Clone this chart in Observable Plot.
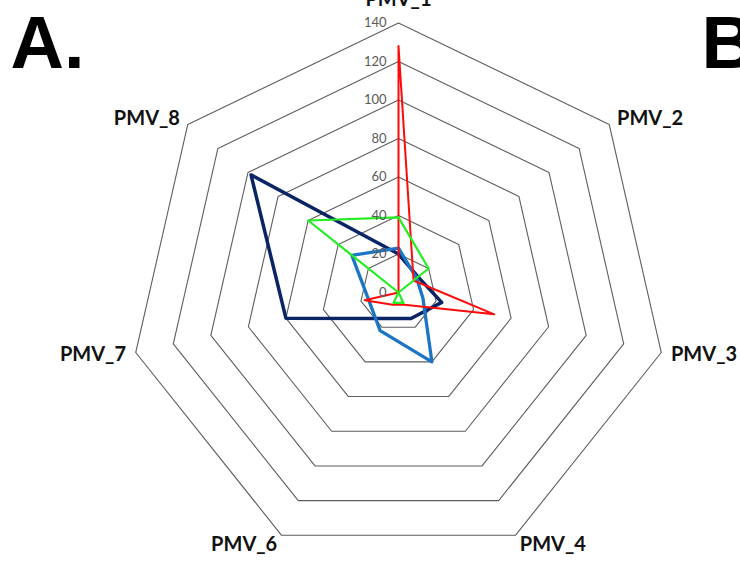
<!DOCTYPE html>
<html>
<head>
<meta charset="utf-8">
<script src="https://cdn.jsdelivr.net/npm/d3@7"></script>
<script src="https://cdn.jsdelivr.net/npm/@observablehq/plot@0.6"></script>
<style>
  html, body { margin: 0; padding: 0; background: #fff; }
  #chart { width: 740px; height: 561px; overflow: hidden; }
</style>
</head>
<body>
<div id="chart"></div>
<script>
// Radar axes, clockwise from the top
const axes = ["PMV_1", "PMV_2", "PMV_3", "PMV_4", "PMV_6", "PMV_7", "PMV_8"];
// Ring values (0 sits at the centre)
const ticks = [0, 20, 40, 60, 80, 100, 120, 140];

// Series values, one per axis in the order above
const redSeries = [128, 10, 51, 7, 7, 18, 0];
const greenSeries = [39, 20, 0, 6, 6, 0, 60];
const lightBlueSeries = [23, 12, 13, 40, 22, 16, 31];
const navySeries = [20, 13, 23, 15, 15, 60, 98];

const W = 740, H = 561;
const cx = 398, cy = 292;      // pixel centre of the radar
const k = 1.925;               // pixels per value unit
const maxV = 140;
const n = axes.length;
const angle = i => (i * 2 * Math.PI) / n;
const px = (v, i) => v * Math.sin(angle(i));
const py = (v, i) => v * Math.cos(angle(i));

// Closed polygon of a series
function polygon(values, name) {
  const pts = values.map((v, i) => ({name, x: px(v, i), y: py(v, i)}));
  pts.push({...pts[0]});
  return pts;
}

// Concentric heptagon grid
const rings = ticks.filter(t => t > 0).flatMap(r =>
  d3.range(n + 1).map(i => ({r, x: px(r, i % n), y: py(r, i % n)}))
);

// Axis name placement just outside the outer ring
const labelOffset = 10 / k;
const axisLabels = axes.map((name, i) => {
  const s = Math.sin(angle(i)), c = Math.cos(angle(i));
  return {
    name,
    x: (maxV + labelOffset) * s,
    y: (maxV + labelOffset) * c + (c > 0.9 ? 13 / k : 0),
    anchor: s > 0.1 ? "start" : s < -0.1 ? "end" : "middle"
  };
});

const series = [
  {data: navySeries, color: "#0b2466", width: 3.5},
  {data: lightBlueSeries, color: "#1b75c4", width: 3.3},
  {data: redSeries, color: "#ff0a0a", width: 2},
  {data: greenSeries, color: "#22ee22", width: 2.2}
];

const labelFont = "Lato, 'Open Sans', sans-serif";
const panelFont = "'Liberation Sans', Arial, sans-serif";

const axisLabelMarks = ["start", "middle", "end"].map(anchor =>
  Plot.text(axisLabels.filter(d => d.anchor === anchor), {
    x: "x", y: "y", text: "name", textAnchor: anchor,
    fontSize: 20, fontWeight: "bold", fill: "#111", fontFamily: labelFont
  })
);

const chart = Plot.plot({
  width: W,
  height: H,
  margin: 0,
  style: {background: "#fff", fontFamily: labelFont},
  x: {domain: [-cx / k, (W - cx) / k], range: [0, W], axis: null},
  y: {domain: [-(H - cy) / k, cy / k], range: [H, 0], axis: null},
  marks: [
    Plot.line(rings, {x: "x", y: "y", z: "r", stroke: "#5e5e5e", strokeWidth: 1.1}),
    ...series.map((s, j) =>
      Plot.line(polygon(s.data, "s" + j), {
        x: "x", y: "y",
        stroke: s.color, strokeWidth: s.width,
        strokeLinejoin: "round", strokeLinecap: "round"
      })
    ),
    Plot.text(ticks, {
      x: () => 0, y: d => d, text: d => String(d),
      textAnchor: "end", dx: -12, fontSize: 13, fill: "#595959",
      fontFamily: labelFont
    }),
    ...axisLabelMarks,
    Plot.text(["A."], {
      frameAnchor: "top-left", dx: 10, dy: 67, lineAnchor: "bottom", textAnchor: "start",
      fontSize: 74, fontWeight: "bold", fill: "#000", fontFamily: panelFont
    }),
    Plot.text(["B"], {
      frameAnchor: "top-left", dx: 701, dy: 67, lineAnchor: "bottom", textAnchor: "start",
      fontSize: 74, fontWeight: "bold", fill: "#000", fontFamily: panelFont
    })
  ]
});

document.getElementById("chart").appendChild(chart);
</script>
</body>
</html>
